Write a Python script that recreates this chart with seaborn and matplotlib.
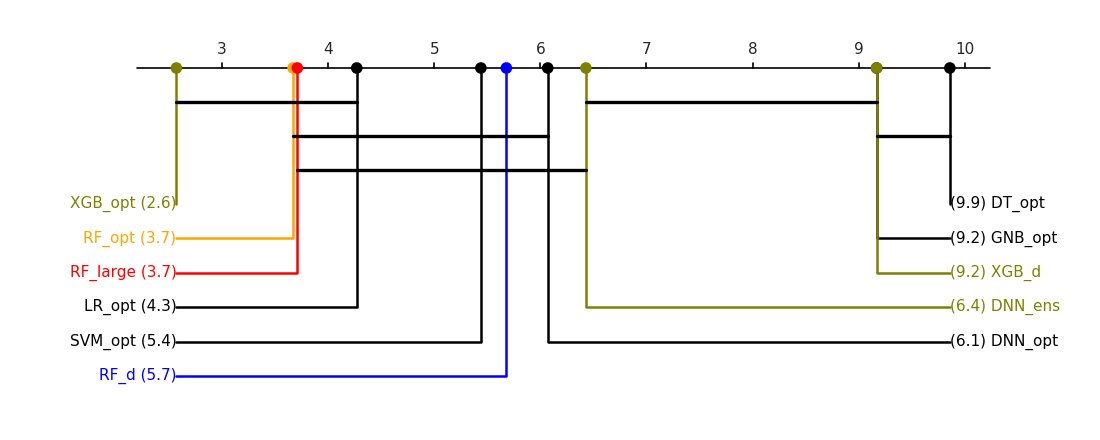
import pandas as pd
import numpy as np
import matplotlib
matplotlib.use('Agg')
import matplotlib.pyplot as plt
import seaborn as sns

# average ranks
names = ['XGB_opt', 'RF_opt', 'RF_large', 'LR_opt', 'SVM_opt', 'RF_d',
         'DNN_opt', 'DNN_ens', 'XGB_d', 'GNB_opt', 'DT_opt']
ranks = [2.57, 3.67, 3.71, 4.27, 5.44, 5.68, 6.07, 6.43, 9.17, 9.17, 9.86]
colors = ['olive', 'orange', 'red', 'black', 'black', 'blue',
          'black', 'olive', 'olive', 'black', 'black']
# groups with no significant difference (first, last member)
cliques = [('XGB_opt', 'LR_opt'), ('RF_opt', 'DNN_opt'), ('RF_large', 'DNN_ens'),
           ('DNN_ens', 'XGB_d'), ('XGB_d', 'DT_opt')]
tick_vals = [3, 4, 5, 6, 7, 8, 9, 10]
n_left = 6

df = pd.DataFrame({'name': names, 'rank': ranks, 'color': colors})
rk = dict(zip(names, ranks))

sns.set_theme(style='white')
plt.rcParams['font.family'] = ['DejaVu Sans']

fig = plt.figure(figsize=(11, 4.4), dpi=100)
ax = fig.add_axes([0, 0, 1, 1])
# map: 1 rank = 106.1 px, rank 3 at x=222 px
px = 106.1
ax.set_xlim(3 - 222 / px, 3 + (1100 - 222) / px)
ax.set_ylim(440, 0)
ax.axis('off')

axis_y = 68
lo, hi = 2.2, 10.24
ax.plot([lo, hi], [axis_y, axis_y], color='black', lw=1.2, zorder=1)
for t in tick_vals:
    ax.plot([t, t], [axis_y, axis_y - 5], color='black', lw=1.2)
    ax.text(t, axis_y - 11, str(t), ha='center', va='bottom', fontsize=11)

# labels and connectors
row0, step = 204, 34.4
left = df.iloc[:n_left]
right = df.iloc[n_left:].iloc[::-1]
xmin, xmax = min(ranks), max(ranks)
for i, r in enumerate(left.itertuples()):
    y = row0 + i * step
    ax.plot([r.rank, r.rank, xmin], [axis_y, y, y], color=r.color, lw=1.8, zorder=2)
    ax.text(xmin, y, f'{r.name} ({r.rank:.1f})', ha='right', va='center',
            fontsize=11, color=r.color)
for i, r in enumerate(right.itertuples()):
    y = row0 + i * step
    ax.plot([r.rank, r.rank, xmax], [axis_y, y, y], color=r.color, lw=1.8, zorder=2)
    ax.text(xmax, y, f'({r.rank:.1f}) {r.name}', ha='left', va='center',
            fontsize=11, color=r.color)

# clique bars, stacked greedily
bar_y0, bar_step = 102, 34
ends = []
for a, b in sorted(cliques, key=lambda c: rk[c[0]]):
    s, e = rk[a], rk[b]
    row = next((j for j, last in enumerate(ends) if s > last), None)
    if row is None:
        ends.append(e)
        row = len(ends) - 1
    else:
        ends[row] = e
    y = bar_y0 + row * bar_step
    ax.plot([s, e], [y, y], color='black', lw=2.4, zorder=3)

pts = pd.concat([left, right])
sns.scatterplot(data=pts, x='rank', y=[axis_y] * len(pts), hue='name',
                palette=dict(zip(names, colors)), s=70, edgecolor='none',
                legend=False, ax=ax, zorder=4)

fig.savefig('out.png', dpi=100)
